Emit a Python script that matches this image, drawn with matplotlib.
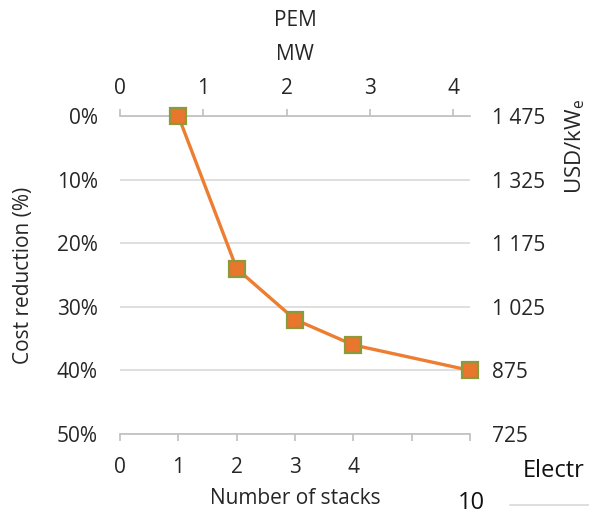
import matplotlib
matplotlib.use("Agg")
import matplotlib.pyplot as plt
from matplotlib.ticker import FixedLocator, FixedFormatter

plt.rcParams['font.family'] = ['Open Sans', 'DejaVu Sans']

# Data
stacks = [1, 2, 3, 4, 6]
cost_reduction = [0, 24, 32, 36, 40]          # %
mw_per_stack = 0.7
stack_ticks = [0, 1, 2, 3, 4, 5, 6]
stack_labels = ['0', '1', '2', '3', '4', '', '']
mw_ticks = [0, 1, 2, 3, 4]
pct_ticks = [0, 10, 20, 30, 40, 50]
pct_labels = ['0%', '10%', '20%', '30%', '40%', '50%']
usd_labels = ['1 475', '1 325', '1 175', '1 025', '875', '725']

W, H = 589, 515
fig = plt.figure(figsize=(W / 100, H / 100), dpi=100)
ax = fig.add_axes([120 / W, 1 - 434 / H, 350 / W, 318 / H])

txt = '#262626'
axis_gray = '#bfbfbf'
grid_gray = '#d9d9d9'
fs = 15


def px(x, y):
    """Pixel position (from top-left) to figure fraction."""
    return x / W, 1 - y / H


ax.plot(stacks, cost_reduction, color='#ED7D31', lw=2.4, marker='s', ms=12,
        markerfacecolor='#E8762D', markeredgecolor='#8C9A3C', markeredgewidth=1.6,
        zorder=5, clip_on=False)

ax.set_xlim(0, 6)
ax.set_ylim(50, 0)
ax.xaxis.set_major_locator(FixedLocator(stack_ticks))
ax.xaxis.set_major_formatter(FixedFormatter(stack_labels))
ax.yaxis.set_major_locator(FixedLocator(pct_ticks))
ax.yaxis.set_major_formatter(FixedFormatter(pct_labels))

for s in ['left', 'right']:
    ax.spines[s].set_visible(False)
for s in ['top', 'bottom']:
    ax.spines[s].set_color(axis_gray)
    ax.spines[s].set_linewidth(1.2)

ax.yaxis.grid(True, color=grid_gray, lw=1.2)
ax.set_axisbelow(True)
ax.tick_params(axis='y', length=0, pad=16, labelsize=fs, labelcolor=txt)
ax.tick_params(axis='x', direction='out', length=5, color=axis_gray, width=1.2,
               pad=11.5, labelsize=fs, labelcolor=txt)

# Top axis: capacity in MW
top = ax.secondary_xaxis('top', functions=(lambda x: x * mw_per_stack,
                                           lambda m: m / mw_per_stack))
top.xaxis.set_major_locator(FixedLocator(mw_ticks))
top.tick_params(direction='out', length=5, color=axis_gray, width=1.2,
                pad=7, labelsize=fs, labelcolor=txt)
top.spines['top'].set_visible(False)

# Right axis: unit cost
right = ax.twinx()
right.set_ylim(50, 0)
right.yaxis.set_major_locator(FixedLocator(pct_ticks))
right.yaxis.set_major_formatter(FixedFormatter(usd_labels))
right.tick_params(axis='y', length=0, pad=16, labelsize=fs, labelcolor=txt)
for s in right.spines.values():
    s.set_visible(False)

# Axis titles
fig.text(*px(295, 21), 'PEM', ha='center', va='center', fontsize=fs, color=txt)
fig.text(*px(295, 54), 'MW', ha='center', va='center', fontsize=fs, color=txt)
fig.text(*px(295, 498), 'Number of stacks', ha='center', va='center',
         fontsize=fs, color=txt)
fig.text(*px(24, 275), 'Cost reduction (%)', rotation=90, ha='center',
         va='center', fontsize=fs, color=txt)
fig.text(*px(575, 146), 'USD/kW$_\\mathregular{e}$', rotation=90,
         ha='center', va='center', fontsize=16, color=txt)

# Neighbouring panel fragment at the bottom right
fig.text(*px(523, 471), 'Electr', ha='left', va='center', fontsize=17, color='#111111')
fig.text(*px(471, 503), '10', ha='center', va='center', fontsize=17, color='#111111')
fig.add_artist(plt.Line2D([510 / W, 1.0], [1 - 505 / H, 1 - 505 / H],
                          color='#d9d9d9', lw=1.2, transform=fig.transFigure))

fig.savefig('out.png', dpi=100, facecolor='white')
